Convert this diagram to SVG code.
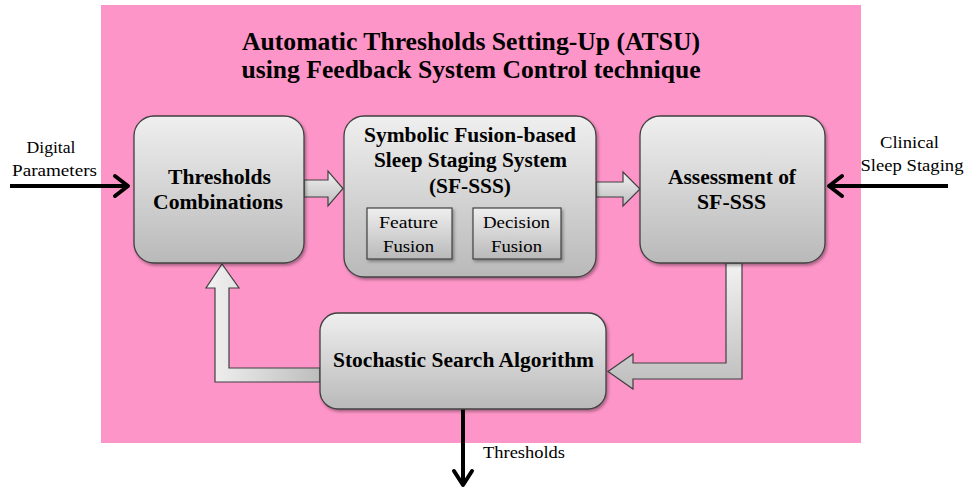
<svg xmlns="http://www.w3.org/2000/svg" width="964" height="489" viewBox="0 0 964 489">
<defs>
<linearGradient id="boxg" x1="0" y1="0" x2="0" y2="1">
<stop offset="0" stop-color="#efefef"/><stop offset="1" stop-color="#b9b9b9"/>
</linearGradient>
<linearGradient id="arrh" x1="0" y1="0" x2="0" y2="1">
<stop offset="0" stop-color="#f2f2f2"/><stop offset="1" stop-color="#bdbdbd"/>
</linearGradient>
<linearGradient id="arrv" x1="0" y1="0" x2="1" y2="0">
<stop offset="0" stop-color="#f2f2f2"/><stop offset="1" stop-color="#bdbdbd"/>
</linearGradient>
<filter id="sh" x="-10%" y="-10%" width="130%" height="130%">
<feDropShadow dx="1.5" dy="2" stdDeviation="1.5" flood-color="#000" flood-opacity="0.35"/>
</filter>
</defs>
<style>
.box{fill:url(#boxg);stroke:#404040;stroke-width:1.3;filter:url(#sh)}
.small{fill:url(#boxg);stroke:#404040;stroke-width:1.2;filter:url(#sh)}
.fat{fill:url(#arrh);stroke:#404040;stroke-width:1.2}
.fatv{fill:url(#arrv);stroke:#404040;stroke-width:1.2}
.blk{fill:none;stroke:#000;stroke-width:4}
.head{fill:none;stroke:#000;stroke-width:4;stroke-linecap:round;stroke-linejoin:round}
.b{font-family:"Liberation Serif",serif;font-weight:bold;font-size:20px;fill:#000;text-anchor:middle}
.t{font-family:"Liberation Serif",serif;font-weight:bold;font-size:25px;fill:#000;text-anchor:middle}
.r{font-family:"Liberation Serif",serif;font-size:17px;fill:#000;text-anchor:middle}
.l{font-family:"Liberation Serif",serif;font-size:17px;fill:#000}
</style>
<rect x="0" y="0" width="964" height="489" fill="#fff"/>
<rect x="101" y="5" width="760" height="438" fill="#fe95c8"/>
<g id="title">
<text class="t" x="471" y="50" textLength="458" lengthAdjust="spacingAndGlyphs">Automatic Thresholds Setting-Up (ATSU)</text>
<text class="t" x="471" y="78" textLength="459" lengthAdjust="spacingAndGlyphs">using Feedback System Control technique</text>
</g>
<g id="connectors">
<path class="fat" d="M304,180 H328 V171 L343,188.5 L328,206 V197 H304 Z"/>
<path class="fat" d="M596,182 H623 V172 L640,189 L623,206 V197 H596 Z"/>
<path class="fat" d="M726,263 V363 H633 V354 L608,371.5 L633,389 V379 H742 V263 Z"/>
<path class="fatv" d="M320,368 H229 V288 H239 L222,264 L206,288 H215 V382 H320 Z"/>
<path class="fat" d="M452,228 H463 V224 L473,233.5 L463,243 V239 H452 Z"/>
<line class="blk" x1="10" y1="186" x2="128" y2="186"/>
<path class="head" d="M115,176 L128,186 L115,196"/>
<line class="blk" x1="948" y1="186" x2="829" y2="186"/>
<path class="head" d="M842,176 L829,186 L842,196"/>
<line class="blk" x1="463" y1="409" x2="463" y2="485"/>
<path class="head" d="M454,471 L463,485 L472,471"/>
</g>
<g id="digital-parameters">
<text class="r" x="51" y="153" textLength="49" lengthAdjust="spacingAndGlyphs">Digital</text>
<text class="r" x="54.5" y="176" textLength="85" lengthAdjust="spacingAndGlyphs">Parameters</text>
</g>
<g id="clinical">
<text class="r" x="909.5" y="148" textLength="59" lengthAdjust="spacingAndGlyphs">Clinical</text>
<text class="r" x="912" y="171" textLength="103" lengthAdjust="spacingAndGlyphs">Sleep Staging</text>
</g>
<g id="thresholds-combinations">
<rect class="box" x="134" y="116" width="170" height="147" rx="20"/>
<text class="b" x="219.5" y="184" textLength="103" lengthAdjust="spacingAndGlyphs">Thresholds</text>
<text class="b" x="218" y="209" textLength="130" lengthAdjust="spacingAndGlyphs">Combinations</text>
</g>
<g id="sf-sss">
<rect class="box" x="344" y="116" width="252" height="161" rx="20"/>
<text class="b" x="470" y="142" textLength="212" lengthAdjust="spacingAndGlyphs">Symbolic Fusion-based</text>
<text class="b" x="470.5" y="167" textLength="193" lengthAdjust="spacingAndGlyphs">Sleep Staging System</text>
<text class="b" x="470" y="193" textLength="82" lengthAdjust="spacingAndGlyphs">(SF-SSS)</text>
</g>
<g id="feature-fusion">
<rect class="small" x="367" y="208" width="85" height="51"/>
<text class="r" x="408.5" y="228" textLength="59" lengthAdjust="spacingAndGlyphs">Feature</text>
<text class="r" x="408.5" y="252" textLength="51" lengthAdjust="spacingAndGlyphs">Fusion</text>
</g>
<g id="decision-fusion">
<rect class="small" x="473" y="208" width="88" height="51"/>
<text class="r" x="516.5" y="228" textLength="67" lengthAdjust="spacingAndGlyphs">Decision</text>
<text class="r" x="516.5" y="252" textLength="51" lengthAdjust="spacingAndGlyphs">Fusion</text>
</g>
<g id="assessment">
<rect class="box" x="640" y="116" width="185" height="147" rx="20"/>
<text class="b" x="732" y="184" textLength="128" lengthAdjust="spacingAndGlyphs">Assessment of</text>
<text class="b" x="731.5" y="209" textLength="69" lengthAdjust="spacingAndGlyphs">SF-SSS</text>
</g>
<g id="stochastic">
<rect class="box" x="320" y="313" width="286" height="96" rx="18"/>
<text class="b" x="463.5" y="367" textLength="261" lengthAdjust="spacingAndGlyphs">Stochastic Search Algorithm</text>
</g>
<g id="thresholds-label">
<text class="l" x="483" y="458" textLength="82" lengthAdjust="spacingAndGlyphs">Thresholds</text>
</g>
</svg>
